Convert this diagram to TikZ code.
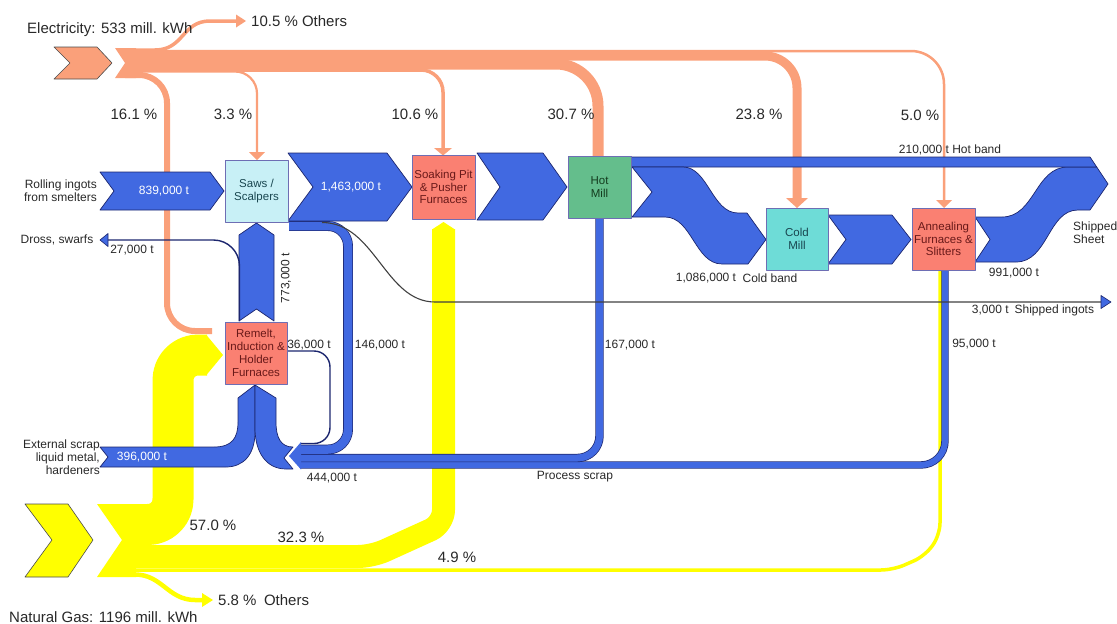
\documentclass[tikz,border=0pt]{standalone}
\usepackage{fontspec}
\setmainfont{Liberation Sans}
\definecolor{elec}{RGB}{250,160,122}
\definecolor{gas}{RGB}{255,255,0}
\definecolor{flow}{RGB}{65,105,225}
\definecolor{edge}{RGB}{28,38,110}
\definecolor{salmonbox}{RGB}{250,128,114}
\definecolor{sawsbox}{RGB}{200,240,246}
\definecolor{hotbox}{RGB}{100,190,140}
\definecolor{coldbox}{RGB}{110,220,215}
\definecolor{boxline}{RGB}{110,110,180}
\definecolor{txt}{RGB}{40,40,40}
\definecolor{redtxt}{RGB}{105,25,25}
\definecolor{greentxt}{RGB}{20,60,30}
\definecolor{tealtxt}{RGB}{25,70,80}
\begin{document}
\begin{tikzpicture}[x=1pt,y=-1pt,line join=round,
  blueshape/.style={fill=flow,draw=edge,line width=0.7pt},
  casing/.style={draw=edge,line width=0.7pt,double=flow,double distance=#1},
  darkline/.style={draw=edge,line width=1.4pt},
  procbox/.style={draw=boxline,line width=0.8pt,inner sep=0pt,outer sep=0pt,
    minimum width=63pt,minimum height=62pt,align=center,
    font=\fontsize{11.5}{12.8}\selectfont},
  pct/.style={font=\fontsize{15}{17}\selectfont,text=txt,inner sep=0pt},
  lab/.style={font=\fontsize{12}{13}\selectfont,text=txt,inner sep=0pt},
  wlab/.style={lab,text=white}]
\useasboundingbox (0,0) rectangle (1117,624);

% ---------------- electricity ----------------
\path[fill=elec,draw=black!70,line width=0.6pt] (54,47) -- (97,47) -- (112,63) -- (97,79) -- (54,79) -- (70,63) -- cycle;
\fill[elec] (115,48) -- (136,48) -- (136,78) -- (115,78) -- (125,63) -- cycle;
\draw[elec,line width=3.5pt] (125,50) -- (155,50) .. controls (184,50) and (182,21) .. (210,21) -- (237,21);
\fill[elec] (236,14.5) -- (246,21) -- (236,27.5) -- cycle;
\draw[elec,line width=2.5pt,rounded corners=33pt] (125,51) -| (944,201);
\fill[elec] (936,200) -- (952,200) -- (944,208) -- cycle;
\draw[elec,line width=9pt,rounded corners=32pt] (125,56) -| (797,199);
\fill[elec] (786,198) -- (808,198) -- (797,208) -- cycle;
\draw[elec,line width=11pt,rounded corners=42pt] (125,64) -| (598,156);
\draw[elec,line width=3.5pt,rounded corners=22pt] (125,70) -| (443,149);
\fill[elec] (434,148) -- (452,148) -- (443,155.5) -- cycle;
\draw[elec,line width=2.2pt,rounded corners=22pt] (125,71.5) -| (257,153);
\fill[elec] (249,152) -- (265,152) -- (257,160) -- cycle;
\draw[elec,line width=6pt,rounded corners=28pt] (125,75) -| (167,331) -- (212,331);

% ---------------- natural gas ----------------
\path[fill=gas,draw=black!70,line width=0.6pt] (25,504) -- (68,504) -- (93,540) -- (68,577) -- (25,577) -- (52,540) -- cycle;
\fill[gas] (97,504) -- (136,504) -- (136,577) -- (97,577) -- (122,540) -- cycle;
\draw[gas,line width=41pt,rounded corners=25pt] (128,524.5) -- (173,524.5) -- (173,355) -- (207,355);
\fill[gas] (206,334.5) -- (223,355) -- (206,375.5) -- cycle;
\draw[gas,line width=23pt,rounded corners=14pt] (128,556.5) -- (372,556.5) -- (443.5,524) -- (443.5,229);
\fill[gas] (432,229.5) -- (443.5,222) -- (455,229.5) -- cycle;
\draw[gas,line width=3.5pt,rounded corners=12pt] (128,570) -- (893,570) -- (925,556) -- (940,535) -- (940,271);
\draw[gas,line width=4.5pt] (128,574.5) -- (135,574.5) .. controls (162,574.5) and (168,600) .. (195,600) -- (203,600);
\fill[gas] (202,593) -- (213,600) -- (202,607) -- cycle;

% ---------------- aluminium flows ----------------
% process scrap returning to the remelt furnaces
\draw[casing=6pt,rounded corners=24pt] (945,270) -- (945,465) -- (300,465);
\draw[casing=7pt,rounded corners=22pt] (599.5,218) -- (599.5,458) -- (300,458);
\draw[casing=8.5pt,rounded corners=20pt] (289,226) -- (348,226) -- (348,449.5) -- (300,449.5);
\draw[edge,line width=1.4pt,rounded corners=16pt] (287,351) -- (330,351) -- (330,443.5) -- (300,443.5);
\path[fill=flow] (301,442) -- (289,456) -- (301,469.5) -- cycle;

% inputs to the remelt furnaces
\path[blueshape] (100,447) -- (214,447) .. controls (232,447) and (238,438) .. (238,422) -- (238,398) -- (255,385)
  -- (255,432) .. controls (255,455) and (243,467) .. (226,467) -- (100,467) -- (108,457) -- cycle;
\path[blueshape] (255,385) -- (276,398) -- (276,422) .. controls (276,438) and (281,447) .. (293,447) -- (284,458)
  -- (293,469) -- (286,469) .. controls (266,469) and (255,452) .. (255,428) -- cycle;
\path[blueshape] (239,321) -- (239,235) -- (256.5,223) -- (274,235) -- (274,321) -- (256.5,309) -- cycle;

% main line
\path[blueshape] (100,172) -- (210,172) -- (224,191) -- (210,210) -- (100,210) -- (114,191) -- cycle;
\path[blueshape] (288,153) -- (387,153) -- (412,187) -- (387,221) -- (288,221) -- (313,187) -- cycle;
\path[blueshape] (477,153) -- (543,153) -- (567,187) -- (543,220) -- (477,220) -- (500,187) -- cycle;
\path[blueshape] (975,217) -- (1002,217) .. controls (1035,217) and (1035,167) .. (1068,167) -- (1096.7,167)
  -- (1108,184) -- (1090,210) -- (1078,210) .. controls (1048,210) and (1048,262) .. (1016,262) -- (975,262) -- (990,239.5) -- cycle;
\path[blueshape] (631,157) -- (1090,157) -- (1096.7,167) -- (631,167) -- cycle;
\path[blueshape] (632,167) -- (683,167) .. controls (708,167) and (712,213) .. (738,213) -- (747,213) -- (766,239.5)
  -- (748,264) -- (722,264) .. controls (695,264) and (692,217) .. (665,217) -- (632,217) -- (652,192) -- cycle;
\path[blueshape] (828,215) -- (892,215) -- (911,239.5) -- (892,264) -- (828,264) -- (846,239.5) -- cycle;

% dross and shipped ingots
\draw[darkline,rounded corners=26pt] (239.5,321) -- (239.5,240) -- (108,240);
\path[fill=flow,draw=edge,line width=0.6pt] (108,233.5) -- (100,240) -- (108,246.5) -- cycle;
\draw[black!75,line width=1.1pt] (322,222.5) .. controls (375,222.5) and (385,302) .. (435,302) -- (1101,302);
\path[fill=flow,draw=edge,line width=0.6pt] (1101,295.5) -- (1111,302) -- (1101,308.5) -- cycle;

% ---------------- process units ----------------
\node[procbox,fill=sawsbox,text=tealtxt] (saws) at (256.5,191) {Saws /\\Scalpers};
\node[procbox,fill=salmonbox,text=redtxt,minimum height=64pt] (soak) at (443.5,187) {Soaking Pit\\\& Pusher\\Furnaces};
\node[procbox,fill=hotbox,text=greentxt] (hot) at (599.5,187) {Hot\\Mill};
\node[procbox,fill=coldbox,text=tealtxt,minimum width=62pt] (cold) at (797,239) {Cold\\Mill};
\node[procbox,fill=salmonbox,text=redtxt] (anneal) at (943.5,239) {Annealing\\Furnaces \&\\Slitters};
\node[procbox,fill=salmonbox,text=redtxt,minimum width=62pt] (remelt) at (256,353) {Remelt,\\Induction \&\\Holder\\Furnaces};

% ---------------- labels ----------------
\node[pct,anchor=west] (elecsrc) at (27,30) {Electricity: 533 mill. kWh};
\node[pct,anchor=west] (elecoth) at (251,21) {10.5 \% Others};
\node[pct] (p161) at (134,114) {16.1 \%};
\node[pct] (p33) at (233,114) {3.3 \%};
\node[pct] (p106) at (415,114) {10.6 \%};
\node[pct] (p307) at (571,114) {30.7 \%};
\node[pct] (p238) at (759,114) {23.8 \%};
\node[pct] (p50) at (920,115) {5.0 \%};
\node[pct] (p570) at (213,525) {57.0 \%};
\node[pct] (p323) at (301,537) {32.3 \%};
\node[pct] (p49) at (457,557) {4.9 \%};
\node[pct,anchor=west] (gasoth) at (218,600) {5.8 \%\hspace{0.5em}Others};
\node[pct,anchor=west] (gassrc) at (9,617) {Natural Gas: 1196 mill. kWh};

\node[lab,align=right,anchor=east] (ingots) at (97,191) {Rolling ingots\\from smelters};
\node[wlab] (t839) at (164,191) {839,000 t};
\node[wlab] (t1463) at (351,187) {1,463,000 t};
\node[lab,rotate=90] (t773) at (286,278) {773,000 t};
\node[lab] (dross) at (57,240) {Dross, swarfs};
\node[lab] (t27) at (132,250) {27,000 t};
\node[lab] (t36) at (309,345) {36,000 t};
\node[lab] (t146) at (380,345) {146,000 t};
\node[lab,align=right,anchor=east] (ext) at (100,457) {External scrap\\liquid metal,\\hardeners};
\node[wlab] (t396) at (142,457) {396,000 t};
\node[lab] (t444) at (332,478) {444,000 t};
\node[lab] (scrap) at (575,477) {Process scrap};
\node[lab] (t167) at (630,345) {167,000 t};
\node[lab] (t95) at (974,344) {95,000 t};
\node[lab] (t1086) at (706,278) {1,086,000 t};
\node[lab] (coldband) at (770,278) {Cold band};
\node[lab] (hotband) at (950,150) {210,000 t Hot band};
\node[lab] (t991) at (1014,273) {991,000 t};
\node[lab,align=left,anchor=west] (sheet) at (1073,233) {Shipped\\Sheet};
\node[lab] (shipingots) at (1033,310) {3,000 t\hspace{0.5em}Shipped ingots};
\end{tikzpicture}
\end{document}
